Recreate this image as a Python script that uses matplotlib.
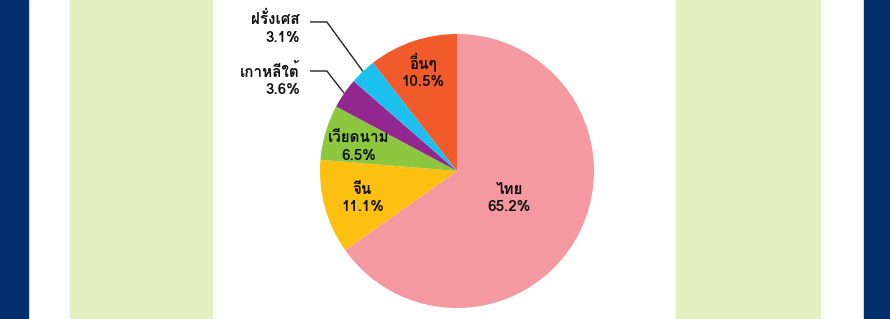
import numpy as np
import matplotlib
matplotlib.use('Agg')
import matplotlib.pyplot as plt
from matplotlib import font_manager

# --- data ---
countries = ['ไทย', 'จีน', 'เวียดนาม', 'เกาหลีใต้', 'ฝรั่งเศส', 'อื่นๆ']
shares = [65.2, 11.1, 6.5, 3.6, 3.1, 10.5]
colors = ['#F4999F', '#FDC010', '#8DC63F', '#92278F', '#1CC0EE', '#F15A2B']


def thai_font():
    # pick the first installed font that has Thai glyphs
    for f in font_manager.fontManager.ttflist:
        try:
            ft = font_manager.get_font(f.fname)
            if ft.get_char_index(0x0E44) and ft.get_char_index(0x0E17):
                return f.name
        except Exception:
            pass
    return 'DejaVu Sans'


fam = [thai_font(), 'DejaVu Sans']
plt.rcParams['font.family'] = fam

fig = plt.figure(figsize=(8.9, 3.19), dpi=100)
W, H = 890, 319

# background bands (page frame)
def band(x0, x1, color):
    fig.patches.append(plt.Rectangle((x0 / W, 0), (x1 - x0) / W, 1,
                                     transform=fig.transFigure, color=color, zorder=0))

band(0, 28, '#032E6E')
band(864, 890, '#032E6E')
band(70, 212, '#E5EFC1')
band(676, 820, '#E5EFC1')

# pie axes: centre (457,171) px, radius 137 px
cx, cy, r = 457, 171, 137
ax = fig.add_axes([(cx - r) / W, (H - cy - r) / H, 2 * r / W, 2 * r / H])
ax.set_aspect('equal')
wedges, _ = ax.pie(shares, colors=colors, startangle=90, counterclock=False,
                   radius=1.0, wedgeprops=dict(linewidth=0))
ax.set_xlim(-1, 1)
ax.set_ylim(-1, 1)
ax.axis('off')

labels = [f'{c}\n{v:.1f}%' for c, v in zip(countries, shares)]
tkw = dict(fontsize=11, fontweight='bold', color='#111111', linespacing=1.3)

# inside labels
inside = {0: (0.38, -0.20), 1: (-0.69, -0.20), 2: (-0.72, 0.175), 5: (-0.25, 0.73)}
for i, (x, y) in inside.items():
    ax.text(x, y, labels[i], ha='center', va='center', **tkw)

# outside labels with leader lines
outside = {4: 1.044, 3: 0.664}
for i, ty in outside.items():
    w = wedges[i]
    ang = np.deg2rad((w.theta1 + w.theta2) / 2)
    ex, ey = np.cos(ang), np.sin(ang)
    ax.text(-1.146, ty, labels[i], ha='right', va='center', clip_on=False, **tkw)
    ly = ty + 0.044 if i == 4 else ty + 0.066
    ax.plot([-1.073, -0.95, ex], [ly, ly, ey], color='#222222', lw=1.0,
            clip_on=False, solid_capstyle='butt')

fig.savefig('out.png', dpi=100)
